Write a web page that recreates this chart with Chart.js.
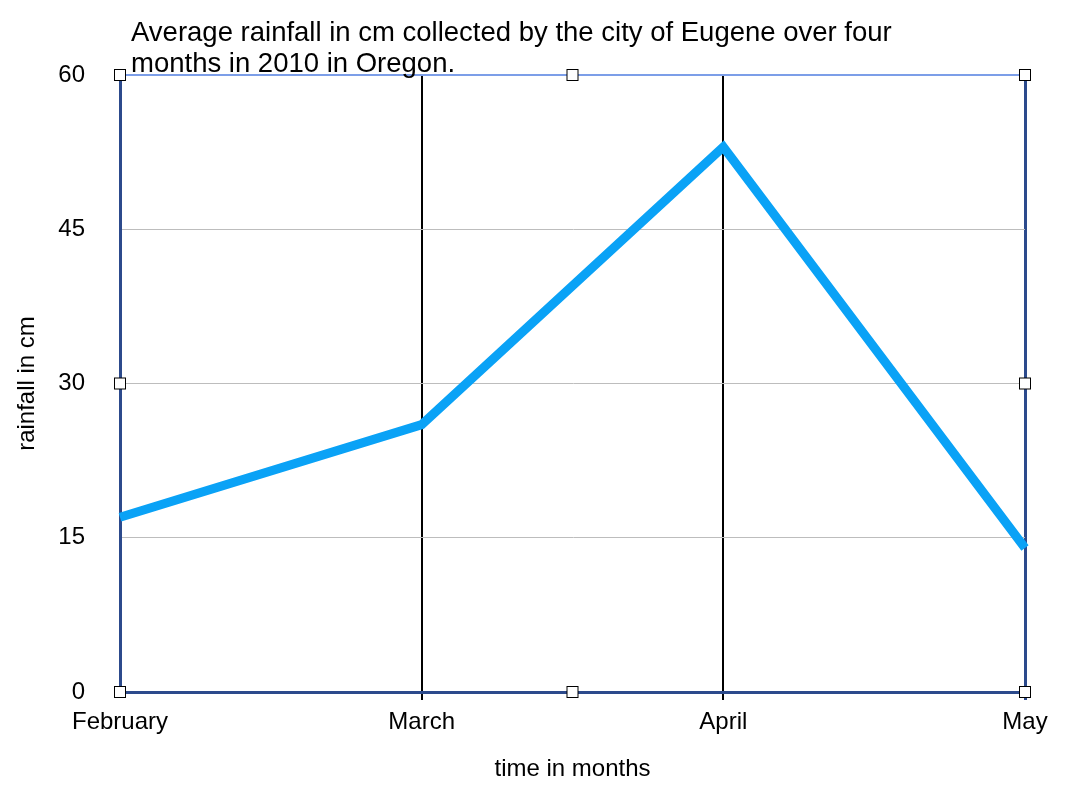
<!DOCTYPE html>
<html>
<head>
<meta charset="utf-8">
<style>
  body { margin: 0; background: #fff; }
  #wrap { width: 1082px; height: 804px; }
</style>
<script src="https://cdn.jsdelivr.net/npm/chart.js@4"></script>
</head>
<body>
<div id="wrap"><canvas id="chart-area"></canvas></div>
<script>
var months = ['February', 'March', 'April', 'May'];
var rainfall = [17, 26, 53, 14];
var titleLines = ['Average rainfall in cm collected by the city of Eugene over four', 'months in 2010 in Oregon.'];

var FONT = '"Liberation Sans", Arial, sans-serif';
var NAVY = '#2c4a8c';

// title text at the top left of the plot
var titlePlugin = {
  id: 'leftTitle',
  afterDraw: function (chart) {
    var ctx = chart.ctx, area = chart.chartArea;
    ctx.save();
    ctx.fillStyle = '#000';
    ctx.font = '27.5px ' + FONT;
    ctx.textBaseline = 'alphabetic';
    ctx.textAlign = 'left';
    titleLines.forEach(function (t, i) {
      ctx.fillText(t, area.left + 11, 41 + i * 31);
    });
    ctx.restore();
  }
};

// little selection squares round the plot frame
var handlesPlugin = {
  id: 'handles',
  afterDraw: function (chart) {
    var ctx = chart.ctx, a = chart.chartArea;
    var xs = [a.left, (a.left + a.right) / 2, a.right];
    var ys = [a.top, (a.top + a.bottom) / 2, a.bottom];
    ctx.save();
    ctx.fillStyle = '#fff';
    ctx.strokeStyle = '#000';
    ctx.lineWidth = 1;
    ys.forEach(function (y, j) {
      xs.forEach(function (x, i) {
        if (i === 1 && j === 1) return;
        ctx.fillRect(x - 5.5, y - 5.5, 11, 11);
        ctx.strokeRect(x - 5.5, y - 5.5, 11, 11);
      });
    });
    ctx.restore();
  }
};

var ctx = document.getElementById('chart-area').getContext('2d');
new Chart(ctx, {
  type: 'line',
  data: {
    labels: months,
    datasets: [{
      label: 'rainfall',
      data: rainfall,
      borderColor: '#0aa2f6',
      borderWidth: 9,
      pointRadius: 0,
      tension: 0,
      fill: false
    }]
  },
  options: {
    responsive: true,
    maintainAspectRatio: false,
    animation: false,
    layout: { padding: { top: 75, right: 57, left: 0, bottom: 0 } },
    plugins: { legend: { display: false }, title: { display: false }, tooltip: { enabled: false } },
    scales: {
      x: {
        offset: false,
        afterFit: function (s) { s.height = 112; },
        grid: {
          color: function (c) { return c.index === 3 ? NAVY : '#000'; },
          lineWidth: function (c) { return c.index === 0 ? 0 : (c.index === 3 ? 3 : 2); },
          drawTicks: true,
          tickLength: 8
        },
        border: { display: true, color: NAVY, width: 3 },
        ticks: { color: '#000', font: { family: FONT, size: 24 }, padding: 8, maxRotation: 0 },
        title: { display: true, text: 'time in months', color: '#000', font: { family: FONT, size: 24 }, padding: { top: 0, bottom: 20 } }
      },
      y: {
        min: 0,
        max: 60,
        afterFit: function (s) { s.width = 120; },
        ticks: { stepSize: 15, color: '#000', font: { family: FONT, size: 24 }, padding: 35 },
        grid: {
          drawTicks: false,
          color: function (c) {
            if (c.tick.value === 60) return '#7c9ee8';
            if (c.tick.value === 0) return NAVY;
            return '#bdbdbd';
          },
          lineWidth: function (c) { return c.tick.value === 60 ? 2 : 1; }
        },
        border: { display: true, color: NAVY, width: 3 },
        title: { display: true, text: 'rainfall in cm', color: '#000', font: { family: FONT, size: 24 }, padding: { top: 13, bottom: 0 } }
      }
    }
  },
  plugins: [titlePlugin, handlesPlugin]
});
</script>
</body>
</html>
